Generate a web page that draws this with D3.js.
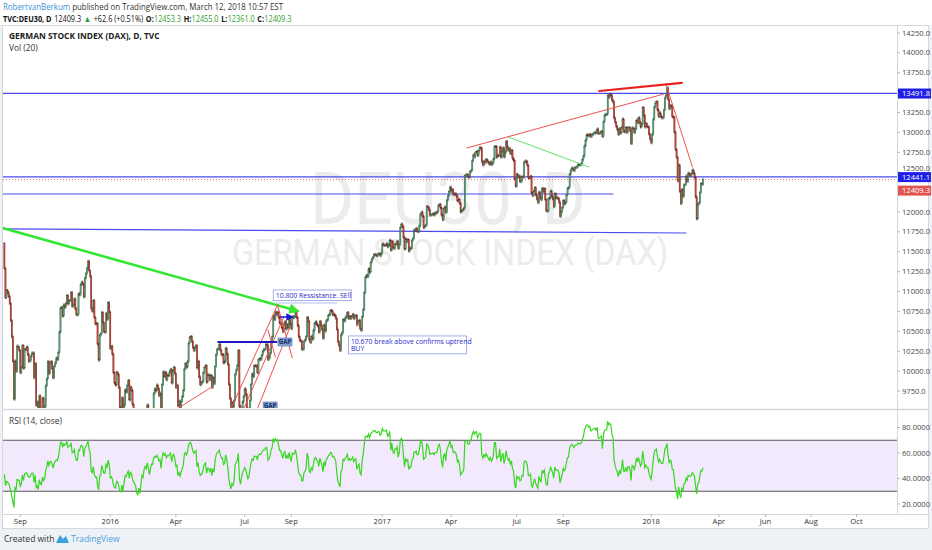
<!DOCTYPE html>
<html><head><meta charset="utf-8">
<script src="https://cdn.jsdelivr.net/npm/d3@7"></script>
<style>
body{margin:0;background:#fff;}
svg{display:block;font-family:'Open Sans','Noto Sans',sans-serif;}
</style>
</head><body><svg id="c" width="932" height="550"></svg>
<script>
// ---------------- DATA ----------------
// DAX daily closes, warm-up bars for RSI (Jul 13 - Aug 10 2015)
const warmupCloses = [11484,11516,11540,11717,11673,11735,11604,11520,11512,11347,11056,11211,11212,11257,11308,11443,11456,11636,11585,11490,11604];
// Aug 11 2015 - Dec 30 2015
const close2015 = [
 11293,10925,11015,10985,10940,10850,10636,10432,10124,9648,10128,9997,10315,10298,10259,
 9980,10048,10318,10038,10271,10271,10303,10210,10123,10131,10188,10227,10229,9916,10092,9571,9612,9428,9688,9484,9450,9660,
 9509,9553,9814,9902,10118,9970,10096,10119,10032,9915,10064,10104,10164,10147,10238,10491,10794,10801,10692,10832,10801,10850,
 10951,10845,10887,10888,10988,10815,10832,10908,10782,10708,10713,10971,10959,11085,11119,11092,10933,11170,11226,11293,11382,
 11261,11190,10789,10752,10886,10673,10592,10598,10340,10139,10450,10470,10738,10608,10497,10489,10727,10653,10860,10743];
const close2016 = [
 10283,10310,10214,9979,9849,9825,9985,9960,9794,9545,9521,9664,9391,9574,9764,9736,9823,9881,9639,9798,
 9757,9581,9434,9393,9286,8979,8879,9018,8752,8967,9206,9135,9377,9463,9388,9573,9416,9167,9331,9513,9495,
 9717,9776,9751,9825,9778,9692,9723,9499,9831,9990,9933,9984,9892,9950,9948,9990,10022,9851,10002,10046,9966,
 9794,9822,9563,9624,9530,9622,9682,9761,10027,10094,10051,10120,10350,10421,10435,10373,10294,10259,10300,10321,10039,
 10123,9926,9828,9851,9870,9980,10045,10067,9862,9952,9952,9891,9943,9795,9916,9842,10057,10205,10272,10286,10333,10263,
 10205,10208,10103,10121,10287,10217,10088,9834,9657,9519,9606,9550,9631,9962,10015,10071,10257,9557,9268,9447,9612,9680,
 9776,9709,9532,9373,9418,9629,9833,9964,9930,10068,10066,10064,9981,10142,10156,10147,10198,10247,10275,10275,10337,
 10330,10144,10170,10228,10367,10432,10693,10650,10742,10713,10740,10676,10603,10603,10544,10495,10593,10622,10529,10587,10544,10657,10593,
 10534,10684,10672,10687,10752,10675,10573,10432,10386,10379,10276,10276,10373,10393,10436,10674,10626,10394,10362,10438,10405,10511,
 10599,10619,10585,10568,10490,10624,10577,10523,10414,10580,10504,10631,10645,10701,10711,10761,10757,10709,10717,10696,10665,
 10526,10370,10325,10259,10456,10482,10646,10630,10668,10693,10735,10663,10686,10664,10685,10713,10662,10689,10700,10582,10621,10640,
 10534,10513,10684,10775,10986,11180,11203,11190,11285,11244,11366,11404,11427,11464,11468,11456,11450,11474,11475,11450,11481];
const close2017 = [
 11599,11584,11585,11584,11599,11564,11583,11646,11521,11629,11554,11540,11599,11597,11630,11545,11595,11806,11848,11815,11682,11535,
 11659,11627,11651,11509,11549,11543,11643,11667,11774,11772,11794,11757,11757,11827,11967,11998,11947,11804,11822,11834,
 12067,12059,12027,11958,11967,11967,11979,11963,11990,11988,12009,12083,12095,12052,11962,11904,12040,12064,11996,12149,12203,12256,12313,
 12257,12282,12218,12230,12225,12201,12139,12154,12109,12000,12016,12027,12049,12455,12467,12472,12443,12438,
 12507,12527,12648,12717,12694,12749,12757,12711,12770,12808,12804,12631,12591,12638,12619,12659,12642,12621,12602,12628,12598,12615,
 12665,12823,12823,12690,12714,12713,12816,12690,12765,12806,12692,12752,12888,12815,12774,12794,12733,12771,12671,12647,12417,12325,
 12475,12437,12453,12381,12389,12445,12437,12627,12641,12632,12587,12431,12430,12447,12240,12208,12264,12305,12212,12163,12118,
 12251,12181,12154,12297,12257,12292,12154,12014,12014,12165,12177,12263,12203,12165,12066,12229,12174,12180,12168,12123,11946,12002,12056,
 12142,12102,12124,12215,12296,12304,12476,12524,12553,12540,12519,12560,12561,12569,12600,12592,12594,12606,12657,12704,12829,
 12902,12970,12968,12956,12976,12949,12970,12982,12992,13004,12995,13043,12990,12991,13003,13013,12953,13134,13217,13229,13230,
 13465,13440,13479,13468,13407,13382,13182,13127,13074,13034,12977,13047,12994,13059,13168,13015,13008,13060,13000,13060,13061,13024,
 12861,13058,13048,12999,13045,13153,13123,13183,13126,13069,13103,13312,13216,13069,13110,13072,13070,12979,12918];
const close2018 = [
 12871,12978,13167,13320,13368,13386,13282,13202,13245,13201,13183,13184,13282,13434,13464,13560,13415,13298,13340,13324,13197,13189,
 13004,12785,12688,12392,12590,12260,12107,12282,12196,12339,12346,12452,12385,12488,12470,12461,12483,12527,12490,12436,
 12190,11914,12091,12114,12245,12356,12346,12409.3];

const startDate = "2015-08-11";
const holidays = ["2015-12-24","2015-12-25","2015-12-31","2016-01-01","2016-03-25","2016-03-28","2016-12-26",
  "2017-04-14","2017-04-17","2017-05-01","2017-10-03","2017-12-25","2017-12-26","2018-01-01"];
const tickMonths = ["2015-09","2016-01","2016-04","2016-07","2016-09","2017-01","2017-04","2017-07","2017-09","2018-01","2018-04","2018-06","2018-08","2018-10"];
const priceTicks = [9750,10000,10250,10500,10750,11000,11250,11500,11750,12000,12250,12500,12750,13000,13250,13500,13750,14000,14250];
const priceTickLabels = ["9750.0","10000.0","10250.0","10500.0","10750.0","11000.0","11250.0","11500.0","11750.0","12000.0",null,"12500.0","12750.0","13000.0","13250.0",null,"13750.0","14000.0","14250.0"];
const rsiTicks = [20,40,60,80];
const rsiBands = [70,30];
const lastPrice = 12409.3;
// header quote values
const quoteParts = [["TVC:DEU30, D",1,"#111"],["12409.3",0,"#111"],["▲",0,"#2ca02c"],["+62.6 (+0.51%)",0,"#111"],
  ["O:",1,"#111"],["12453.3",0,"#2ca02c"],["H:",1,"#111"],["12455.0",0,"#2ca02c"],
  ["L:",1,"#111"],["12361.0",0,"#2ca02c"],["C:",1,"#111"],["12409.3",0,"#2ca02c"]];
// horizontal levels (price) drawn on chart, with axis labels
const levelPrices = [13491.8, 12441.1];
// drawn trendlines: [startBar, startPrice, endBar, endPrice]
const greenTrend = [[-2,11800,277,10756]];
const greenThin = [[476,12943,552,12566]];
const blueLines = [[-2,11788,644,11736],[-2,12226,575,12226]];
const redThin = [[437,12805,623,13483],[625,13609,650,12566],[166,9549,196,9801],
  [214,9524,258,10831],[226,9524,264,10680],[239,9524,270,10560],[258,10831,272,10165],[249,10517,256,10178]];
const redThick = [[562,13521,640,13622]];
const gapLine = [[202,10366,257,10366]];
const gapArrow = [[261,10680,272,10680]];
const notes = [
  {bar:254, price:11020, lines:["10.800 Ressistance. SEll"]},
  {bar:325, price:10442, lines:["10.670 break above confirms uptrend","BUY"]}];
const noteLeader = [[257,10856,314,10856]];
const gapLabels = [{bar:258, price:10366},{bar:244, price:9562}];

// ---------------- SETUP ----------------
const closes = [].concat(close2015, close2016, close2017, close2018);
const svg = d3.select("#c");
const L=3, R=897, PT=25, PB=408, RT=411, RB=513, AB=528;

// trading-day calendar
const fmt = d3.timeFormat("%Y-%m-%d");
const hol = new Set(holidays);
const dates = [];
let d = d3.timeParse("%Y-%m-%d")(startDate);
while (dates.length < 840) {
  const wd = d.getDay();
  if (wd !== 0 && wd !== 6 && !hol.has(fmt(d))) dates.push(new Date(d));
  d = d3.timeDay.offset(d, 1);
}
const x = d3.scaleLinear().domain([0, 660]).range([4.4, 4.4 + 660 * 1.0585]);
const y = d3.scaleLinear().domain([9750, 14250]).range([391, 33]);
const yR = d3.scaleLinear().domain([20, 80]).range([504, 427.5]);

// backgrounds
svg.append("rect").attr("x",0).attr("y",0).attr("width",932).attr("height",550).attr("fill","#eef1f5");
svg.append("rect").attr("x",0).attr("y",0).attr("width",932).attr("height",PT).attr("fill","#fff");
svg.append("rect").attr("x",2.5).attr("y",PT+0.5).attr("width",926).attr("height",AB-PT).attr("fill","#fff").attr("stroke","#d4d7dd");

const defs = svg.append("defs");
defs.append("clipPath").attr("id","cp").append("rect").attr("x",L).attr("y",PT+1).attr("width",R-L).attr("height",PB-PT-1);
defs.append("clipPath").attr("id","cr").append("rect").attr("x",L).attr("y",RT).attr("width",R-L).attr("height",RB-RT);
const mk = defs.append("marker").attr("id","arrG").attr("viewBox","0 0 10 10").attr("refX",8).attr("refY",5)
  .attr("markerWidth",4).attr("markerHeight",4).attr("orient","auto");
mk.append("path").attr("d","M0,0L10,5L0,10z").attr("fill","#33e633");
const mk2 = defs.append("marker").attr("id","arrB").attr("viewBox","0 0 10 10").attr("refX",8).attr("refY",5)
  .attr("markerWidth",5).attr("markerHeight",5).attr("orient","auto");
mk2.append("path").attr("d","M0,0L10,5L0,10z").attr("fill","#1a1ad0");

// separators
svg.append("line").attr("x1",R+0.5).attr("x2",R+0.5).attr("y1",PT).attr("y2",AB-14).attr("stroke","#d4d7dd");
svg.append("line").attr("x1",L).attr("x2",928).attr("y1",409.5).attr("y2",409.5).attr("stroke","#d4d7dd").attr("stroke-width",1.5);
svg.append("line").attr("x1",L).attr("x2",928).attr("y1",514.5).attr("y2",514.5).attr("stroke","#d4d7dd");

// ---------------- PRICE PANE ----------------
const pg = svg.append("g").attr("clip-path","url(#cp)");
// watermark
pg.append("text").attr("x",448).attr("y",224).attr("text-anchor","middle").attr("font-family","Roboto,'Open Sans',sans-serif")
  .attr("font-size",72).attr("fill","#ececec").attr("textLength",276).attr("lengthAdjust","spacingAndGlyphs").text("DEU30, D");
pg.append("text").attr("x",450).attr("y",265).attr("text-anchor","middle").attr("font-family","Roboto,'Open Sans',sans-serif")
  .attr("font-size",36).attr("fill","#ececec").attr("textLength",436).attr("lengthAdjust","spacingAndGlyphs").text("GERMAN STOCK INDEX (DAX)");

const seg = (g, arr, color, w, extra) => {
  const s = g.selectAll(null).data(arr).join("line")
    .attr("x1",a=>x(a[0])).attr("y1",a=>y(a[1])).attr("x2",a=>x(a[2])).attr("y2",a=>y(a[3]))
    .attr("stroke",color).attr("stroke-width",w).attr("stroke-linecap","round");
  if (extra) extra(s);
  return s;
};
// full-width levels
pg.selectAll(null).data(levelPrices).join("line").attr("x1",L).attr("x2",R)
  .attr("y1",p=>y(p)).attr("y2",p=>y(p)).attr("stroke","#4a4af0").attr("stroke-width",1.2);
seg(pg, blueLines, "#4a4af0", 1.2);
// last price dotted line
pg.append("line").attr("x1",L).attr("x2",R).attr("y1",y(lastPrice)).attr("y2",y(lastPrice))
  .attr("stroke","#e05050").attr("stroke-width",0.8).attr("stroke-dasharray","1,2");

// candles
const last0 = warmupCloses[warmupCloses.length-1];
const bars = closes.map((c,i)=>({i, o: i ? closes[i-1] : last0, c}));
const cg = pg.append("g");
cg.selectAll("line").data(bars).join("line")
  .attr("x1",b=>x(b.i)).attr("x2",b=>x(b.i))
  .attr("y1",b=>y(Math.max(b.o,b.c))-1.5).attr("y2",b=>y(Math.min(b.o,b.c))+1.5)
  .attr("stroke",b=>b.c>=b.o?"#2b5e40":"#5b1a13").attr("stroke-width",0.7);
cg.selectAll("rect").data(bars).join("rect")
  .attr("x",b=>x(b.i)-0.65).attr("width",1.3)
  .attr("y",b=>y(Math.max(b.o,b.c)))
  .attr("height",b=>Math.max(1,y(Math.min(b.o,b.c))-y(Math.max(b.o,b.c))))
  .attr("fill",b=>b.c>=b.o?"#5fa07a":"#c8493a")
  .attr("stroke",b=>b.c>=b.o?"#2b5e40":"#6b2018").attr("stroke-width",0.35);

// drawings
seg(pg, greenTrend, "#33e633", 2.6, s=>s.attr("marker-end","url(#arrG)"));
seg(pg, greenThin, "#66e066", 1);
seg(pg, redThin, "#f05050", 1);
seg(pg, redThick, "#e82020", 2.2);
seg(pg, gapLine, "#1a1ac0", 2);
seg(pg, gapArrow, "#1a1ad0", 1.5, s=>s.attr("marker-end","url(#arrB)"));
seg(pg, noteLeader, "#9fb0ef", 0.8);

// notes
const LH = 7.2;
const ng = pg.selectAll(null).data(notes).join("g").attr("transform",n=>`translate(${x(n.bar)},${y(n.price)})`);
ng.append("rect").attr("x",0).attr("y",0).attr("width",n=>n.lines.length>1?118:78).attr("height",n=>n.lines.length*LH+3.5)
  .attr("fill","#fff").attr("stroke","#8c9ce0").attr("stroke-width",0.8);
ng.each(function(n){
  const g = d3.select(this);
  n.lines.forEach((t,k)=>g.append("text").attr("x",2.5).attr("y",7.6+k*LH).attr("font-size",6.9)
    .attr("fill","#2a2ac8").text(t));
});
const gl = pg.selectAll(null).data(gapLabels).join("g").attr("transform",g=>`translate(${x(g.bar)},${y(g.price)})`);
gl.append("rect").attr("x",0).attr("y",-4.5).attr("width",15).attr("height",9).attr("rx",1).attr("fill","#7f9ccb");
gl.append("text").attr("x",7.5).attr("y",2.3).attr("text-anchor","middle").attr("font-size",6.2).attr("font-weight","bold")
  .attr("fill","#1b2f6a").text("GAP");

// titles in pane
svg.append("text").attr("x",9).attr("y",39).attr("font-size",8.4).attr("font-weight","bold").attr("fill","#222")
  .text("GERMAN STOCK INDEX (DAX), D, TVC");
svg.append("text").attr("x",9).attr("y",50.5).attr("font-size",8.4).attr("fill","#333").text("Vol (20)");

// price axis
const pa = svg.append("g");
priceTicks.forEach((p,k)=>{
  if (!priceTickLabels[k]) return;
  const nudge = p === 12500 ? -4 : 0;
  pa.append("line").attr("x1",R).attr("x2",R+3).attr("y1",y(p)).attr("y2",y(p)).attr("stroke","#bbb");
  pa.append("text").attr("x",902).attr("y",y(p)+2.6+nudge).attr("font-size",7.6).attr("fill","#4a4a4a").text(priceTickLabels[k]);
});
const lab = (p, ypos, fill) => {
  pa.append("rect").attr("x",R+1).attr("y",ypos-4.8).attr("width",33).attr("height",10).attr("fill",fill);
  pa.append("text").attr("x",902).attr("y",ypos+2.6).attr("font-size",7.6).attr("fill","#fff").text(d3.format(".1f")(p));
};
levelPrices.forEach(p=>lab(p, y(p), "#1f1fe6"));
lab(lastPrice, y(levelPrices[1])+13.5, "#e0554f");

// ---------------- RSI PANE ----------------
const all = warmupCloses.concat(closes);
const rsi = new Array(all.length).fill(null);
let ag=0, al=0;
for (let k=1;k<all.length;k++){
  const ch = all[k]-all[k-1], g = Math.max(ch,0), l = Math.max(-ch,0);
  if (k<=14){ ag+=g/14; al+=l/14; if(k===14) rsi[k]=100-100/(1+ag/al); }
  else { ag=(ag*13+g)/14; al=(al*13+l)/14; rsi[k]=al===0?100:100-100/(1+ag/al); }
}
const rsiVals = rsi.slice(warmupCloses.length);
const rg = svg.append("g").attr("clip-path","url(#cr)");
rg.append("rect").attr("x",L).attr("width",R-L).attr("y",yR(70)).attr("height",yR(30)-yR(70)).attr("fill","#f2eafc");
rg.selectAll(null).data(rsiBands).join("line").attr("x1",L).attr("x2",R).attr("y1",v=>yR(v)).attr("y2",v=>yR(v))
  .attr("stroke","#5a5a5a").attr("stroke-width",1);
rg.append("path").datum(rsiVals).attr("fill","none").attr("stroke","#35d81e").attr("stroke-width",1.2)
  .attr("d", d3.line().x((v,i)=>x(i)).y(v=>yR(v)));
svg.append("text").attr("x",9).attr("y",424).attr("font-size",8.4).attr("fill","#333").text("RSI (14, close)");
rsiTicks.forEach(v=>{
  pa.append("line").attr("x1",R).attr("x2",R+3).attr("y1",yR(v)).attr("y2",yR(v)).attr("stroke","#bbb");
  pa.append("text").attr("x",902).attr("y",yR(v)+2.6).attr("font-size",7.6).attr("fill","#4a4a4a").text(d3.format(".4f")(v));
});

// ---------------- TIME AXIS ----------------
const mfmt = d3.timeFormat("%Y-%m"), mname = d3.timeFormat("%b"), yname = d3.timeFormat("%Y");
tickMonths.forEach(m=>{
  const idx = dates.findIndex(dd=>mfmt(dd)===m);
  if (idx<0) return;
  const xx = x(idx);
  svg.append("line").attr("x1",xx).attr("x2",xx).attr("y1",514).attr("y2",517).attr("stroke","#bbb");
  svg.append("text").attr("x",xx).attr("y",524).attr("text-anchor","middle").attr("font-size",7.6).attr("fill","#333")
    .text(dates[idx].getMonth()===0 ? yname(dates[idx]) : mname(dates[idx]));
});

// ---------------- HEADER / FOOTER ----------------
const h1 = svg.append("text").attr("x",3).attr("y",10).attr("font-size",9.3).attr("textLength",280).attr("lengthAdjust","spacingAndGlyphs");
h1.append("tspan").attr("fill","#3d8fd5").text("RobertvanBerkum");
h1.append("tspan").attr("fill","#333").text(" published on TradingView.com, March 12, 2018 10:57 EST");
// quote line: each part measured and placed after the previous one, then the whole group scaled to fit
const qg = svg.append("g");
let qx = 0;
quoteParts.forEach(([t,b,c],k)=>{
  const el = qg.append("text").attr("x",qx).attr("y",0).attr("font-size",8.8).attr("font-weight",b?"bold":"normal").attr("fill",c).text(t);
  const w = el.node().getComputedTextLength();
  const gapAfter = (b && t.endsWith(":")) ? 0.3 : 3.2;
  qx += w + gapAfter;
});
const qscale = 291 / qx;
qg.attr("transform",`translate(3,21.5) scale(${qscale},1)`);

svg.append("text").attr("x",4).attr("y",542).attr("font-size",8.5).attr("fill","#333").text("Created with");
svg.append("path").attr("d","M56,543 L60,535 L63,539 L66,536 L69,543 Z").attr("fill","#3ba0de");
svg.append("text").attr("x",71).attr("y",542).attr("font-size",8.5).attr("fill","#4aa3df").text("TradingView");
</script>
</body></html>
